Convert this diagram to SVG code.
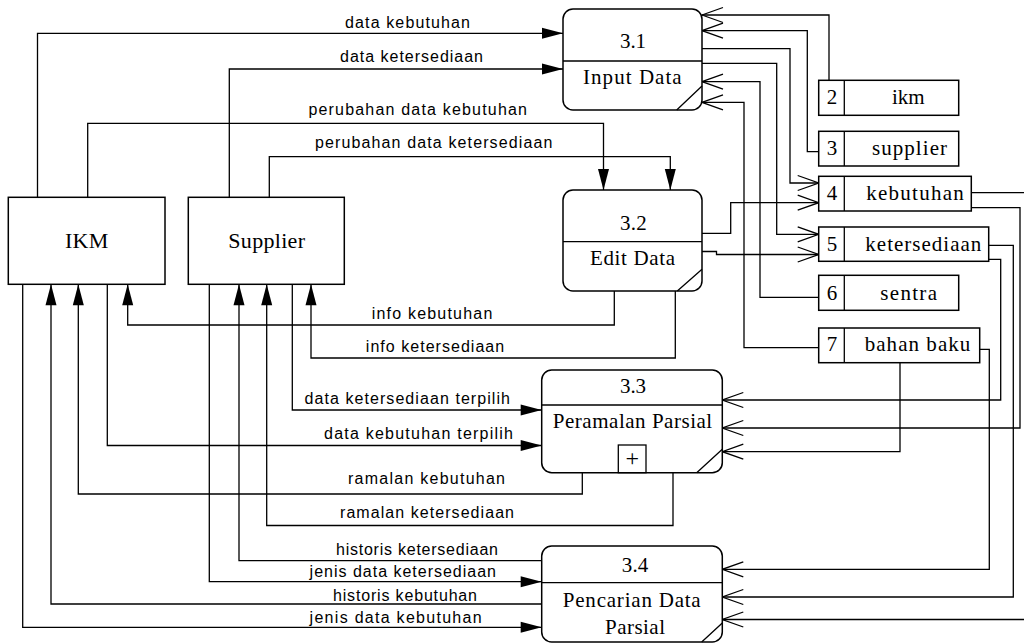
<svg xmlns="http://www.w3.org/2000/svg" width="1024" height="643" viewBox="0 0 1024 643">
<style>
.box{fill:#fff;stroke:#000;stroke-width:1.5}
.ln{fill:none;stroke:#000;stroke-width:1.3}
.fa{marker-end:url(#fa)}
.oa{marker-end:url(#oa)}
.lb{font-family:"Liberation Sans",Arial,sans-serif;font-size:16px;fill:#000}
.nd{font-family:"Liberation Serif","Times New Roman",serif;font-size:21px;fill:#000}
.en{font-family:"Liberation Serif","Times New Roman",serif;font-size:22px;fill:#000}
</style>
<defs>
<marker id="fa" viewBox="-22 -7 23 14" refX="0" refY="0" markerWidth="23" markerHeight="14" markerUnits="userSpaceOnUse" orient="auto"><path d="M-21,-5.5 L0,0 L-21,5.5 Z" fill="#000"/></marker>
<marker id="oa" viewBox="-23 -9 24 18" refX="0" refY="0" markerWidth="24" markerHeight="18" markerUnits="userSpaceOnUse" orient="auto"><path d="M-21,-7.5 L0,0 L-21,7.5" fill="none" stroke="#000" stroke-width="1.3"/></marker>
</defs>
<rect width="1024" height="643" fill="#fff"/>

<g id="connectors">
<path class="ln fa" d="M37.5,197.3 V33.3 H563"/>
<text class="lb" x="345" y="28" textLength="125">data kebutuhan</text>
<path class="ln fa" d="M229.3,197.3 V69 H563"/>
<text class="lb" x="340" y="62" textLength="143">data ketersediaan</text>
<path class="ln fa" d="M87.7,197.3 V123.3 H603.5 V190"/>
<text class="lb" x="308.4" y="114.5" textLength="218.6">perubahan data kebutuhan</text>
<path class="ln fa" d="M269.3,197.3 V156.7 H670.3 V190"/>
<text class="lb" x="315" y="147.5" textLength="237.4">perubahan data ketersediaan</text>
<path class="ln fa" d="M614.3,291 V325 H127.7 V284.3"/>
<text class="lb" x="371.7" y="319" textLength="120.6">info kebutuhan</text>
<path class="ln fa" d="M675.3,291 V358 H311 V284.3"/>
<text class="lb" x="365.8" y="351.5" textLength="138.4">info ketersediaan</text>
<path class="ln fa" d="M292.3,284.3 V410 H541.7"/>
<text class="lb" x="304.5" y="404" textLength="205.5">data ketersediaan terpilih</text>
<path class="ln fa" d="M107.3,284.3 V445.5 H541.7"/>
<text class="lb" x="324" y="438.5" textLength="189">data kebutuhan terpilih</text>
<path class="ln fa" d="M582.3,472.7 V494 H78.3 V284.3"/>
<text class="lb" x="348" y="483.5" textLength="157">ramalan kebutuhan</text>
<path class="ln fa" d="M673,472.7 V525.5 H266.7 V284.3"/>
<text class="lb" x="340" y="517.5" textLength="174">ramalan ketersediaan</text>
<path class="ln fa" d="M541.7,560.7 H239 V284.3"/>
<text class="lb" x="336" y="555" textLength="162">historis ketersediaan</text>
<path class="ln fa" d="M209.3,284.3 V581.7 H541.7"/>
<text class="lb" x="309.6" y="576.5" textLength="186.4">jenis data ketersediaan</text>
<path class="ln fa" d="M541.7,604 H51 V284.3"/>
<text class="lb" x="333" y="601" textLength="144">historis kebutuhan</text>
<path class="ln fa" d="M22.7,284.3 V627.3 H541.7"/>
<text class="lb" x="309.6" y="623" textLength="172">jenis data kebutuhan</text>

<path class="ln oa" d="M829,80.3 V15 H702"/>
<path class="ln oa" d="M818.7,151.7 H807.3 V30.7 H702"/>
<path class="ln oa" d="M702,48.7 H790 V183 H818.7"/>
<path class="ln oa" d="M702,63.3 H776.7 V234.3 H818.7"/>
<path class="ln oa" d="M818.7,297.3 H760 V81.7 H702"/>
<path class="ln oa" d="M818.7,347.7 H744 V102.3 H702"/>
<path class="ln oa" d="M702,233.3 H730.7 V202.7 H818.7"/>
<path class="ln oa" d="M702,251.5 H716.5 V254.5 H818.7"/>
<path class="ln oa" d="M988.7,259.3 H1000.7 V400 H722.3"/>
<path class="ln oa" d="M971.3,207.7 H1020 V428 H722.3"/>
<path class="ln oa" d="M900,362.7 V451.7 H722.3"/>
<path class="ln oa" d="M979.7,349.3 H989.3 V569.3 H722.3"/>
<path class="ln oa" d="M988.7,245.3 H1013.3 V597 H722.3"/>
<path class="ln oa" d="M971.3,192.7 H1030 V619.5 H722.3"/>
</g>

<g id="ikm-entity">
<rect class="box" x="8.3" y="197.3" width="156.7" height="87"/>
<text class="en" x="65" y="248.3" textLength="43.3">IKM</text>
</g>
<g id="supplier-entity">
<rect class="box" x="188.3" y="197.3" width="156" height="87"/>
<text class="en" x="228.3" y="248.3" textLength="76.7">Supplier</text>
</g>

<g id="p31">
<rect class="box" x="563" y="9" width="139" height="101" rx="10"/>
<path class="ln" d="M563,61 H702 M676.7,110 L702,86"/>
<text class="nd" x="620" y="48.3" textLength="26">3.1</text>
<text class="nd" x="583" y="84" textLength="98.7">Input Data</text>
</g>
<g id="p32">
<rect class="box" x="563" y="190" width="139" height="101" rx="10"/>
<path class="ln" d="M563,241.7 H702 M677.3,291 L702,269.3"/>
<text class="nd" x="620" y="230" textLength="26.7">3.2</text>
<text class="nd" x="590" y="265" textLength="85">Edit Data</text>
</g>
<g id="p33">
<rect class="box" x="541.7" y="370" width="180.6" height="102.7" rx="10"/>
<path class="ln" d="M541.7,405 H722.3 M696.7,472.7 L722.3,449.3"/>
<rect x="618.3" y="445" width="27.7" height="27.7" fill="none" stroke="#000" stroke-width="1.3"/>
<text x="632.2" y="466" text-anchor="middle" style="font-family:'Liberation Serif',serif;font-size:24px">+</text>
<text class="nd" x="620" y="393.3" textLength="26">3.3</text>
<text class="nd" x="552.8" y="428.3" textLength="159.4">Peramalan Parsial</text>
</g>
<g id="p34">
<rect class="box" x="541.7" y="546" width="180.6" height="96" rx="10"/>
<path class="ln" d="M541.7,582.7 H722.3 M701.7,642 L722.3,623"/>
<text class="nd" x="621.7" y="571.7" textLength="26.6">3.4</text>
<text class="nd" x="562.8" y="606.7" textLength="137.9">Pencarian Data</text>
<text class="nd" x="605" y="634" textLength="60">Parsial</text>
</g>

<g id="ds2">
<rect class="box" x="818.7" y="80.3" width="140" height="35"/>
<path class="ln" d="M844.3,80.3 V115.3"/>
<text class="nd" x="832" y="104.3" text-anchor="middle">2</text>
<text class="nd" x="892" y="104.3" textLength="32.7">ikm</text>
</g>
<g id="ds3">
<rect class="box" x="818.7" y="131.3" width="140" height="34.7"/>
<path class="ln" d="M844.3,131.3 V166"/>
<text class="nd" x="832" y="155.3" text-anchor="middle">3</text>
<text class="nd" x="872" y="155.3" textLength="75">supplier</text>
</g>
<g id="ds4">
<rect class="box" x="818.7" y="176.3" width="152.6" height="34.7"/>
<path class="ln" d="M844.3,176.3 V211"/>
<text class="nd" x="832" y="200.3" text-anchor="middle">4</text>
<text class="nd" x="866.3" y="200.3" textLength="97.4">kebutuhan</text>
</g>
<g id="ds5">
<rect class="box" x="818.7" y="227" width="170" height="34.3"/>
<path class="ln" d="M844.3,227 V261.3"/>
<text class="nd" x="832" y="251.3" text-anchor="middle">5</text>
<text class="nd" x="865.3" y="251.3" textLength="116">ketersediaan</text>
</g>
<g id="ds6">
<rect class="box" x="818.7" y="275.3" width="140" height="35"/>
<path class="ln" d="M844.3,275.3 V310.3"/>
<text class="nd" x="832" y="299.7" text-anchor="middle">6</text>
<text class="nd" x="880.3" y="299.7" textLength="56.7">sentra</text>
</g>
<g id="ds7">
<rect class="box" x="818.7" y="328" width="161" height="34.7"/>
<path class="ln" d="M844.3,328 V362.7"/>
<text class="nd" x="832" y="351.3" text-anchor="middle">7</text>
<text class="nd" x="864.7" y="351.3" textLength="105.6">bahan baku</text>
</g>
</svg>
